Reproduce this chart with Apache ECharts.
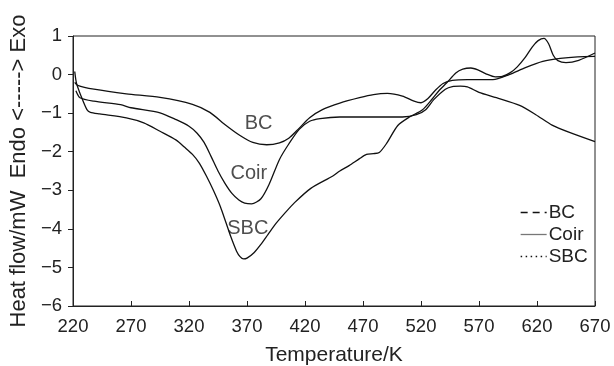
<!DOCTYPE html>
<html>
<head>
<meta charset="utf-8">
<script src="https://cdn.jsdelivr.net/npm/echarts@6/dist/echarts.min.js"></script>
<style>
html,body{margin:0;padding:0;background:#fff;}
#chart{width:614px;height:366px;}
</style>
</head>
<body>
<div id="chart"></div>
<script>
// ---- data (Temperature/K, Heat flow/mW) ----
var seriesNames = ['BC', 'Coir', 'SBC'];
var bcData = [[221.5,-0.2],[224,-0.28],[238,-0.38],[266,-0.5],[295,-0.59],[323,-0.77],[338,-0.98],[352,-1.32],[364,-1.58],[375,-1.76],[387,-1.82],[398,-1.77],[406,-1.65],[414,-1.42],[424,-1.12],[435,-0.91],[450,-0.74],[467,-0.6],[479,-0.52],[491,-0.49],[504,-0.56],[514,-0.69],[520,-0.73],[526,-0.62],[532,-0.42],[539,-0.23],[547,-0.15],[560,-0.13],[582,-0.13],[596,0.0],[610,0.18],[625,0.34],[640,0.42],[655,0.46],[670,0.47]];
var coirData = [[222.5,-0.42],[226,-0.6],[238,-0.69],[261,-0.78],[270,-0.86],[295,-0.99],[309,-1.17],[320,-1.34],[327,-1.52],[333,-1.76],[339,-2.12],[345,-2.5],[351,-2.82],[357,-3.08],[363,-3.25],[368,-3.33],[374,-3.35],[382,-3.22],[389,-2.85],[398,-2.2],[406,-1.8],[415,-1.42],[424,-1.21],[433,-1.14],[450,-1.1],[480,-1.1],[504,-1.1],[516,-1.04],[524,-0.91],[531,-0.65],[541,-0.38],[547,-0.31],[554,-0.3],[560,-0.32],[570,-0.46],[585,-0.6],[605,-0.8],[619,-1.04],[633,-1.31],[648,-1.5],[670,-1.74]];
var sbcData = [[221.5,0.08],[223,-0.22],[227,-0.56],[232,-0.91],[235,-0.98],[243,-1.02],[266,-1.12],[281,-1.25],[295,-1.47],[309,-1.7],[316,-1.88],[323,-2.07],[329,-2.3],[335,-2.63],[341,-3.0],[347,-3.42],[352,-3.85],[356,-4.2],[361,-4.58],[364,-4.72],[367,-4.78],[370,-4.76],[376,-4.62],[382,-4.4],[388,-4.15],[395,-3.86],[403,-3.58],[411,-3.32],[425,-2.95],[444,-2.63],[450,-2.5],[458,-2.36],[467,-2.18],[473,-2.07],[479,-2.05],[484,-2.02],[490,-1.8],[500,-1.32],[510,-1.1],[521,-0.92],[530,-0.62],[536,-0.4],[542,-0.22],[550,0.04],[556,0.14],[563,0.17],[569,0.12],[576,0.02],[584,-0.06],[590,-0.05],[597,0.05],[603,0.2],[610,0.45],[616,0.72],[621,0.88],[626,0.94],[630,0.8],[634,0.5],[638,0.36],[645,0.31],[656,0.37],[670,0.56]];
// curve annotations: [T, value, text]
var annotations = [[380,-1.27,'BC'],[371.6,-2.56,'Coir'],[370.7,-4.0,'SBC']];
// axes
var xMin = 220, xMax = 670, xStep = 50;
var yMin = -6, yMax = 1, yStep = 1;
var xTitle = 'Temperature/K';
var yTitle = 'Heat flow/mW  Endo <-----> Exo';

var FONT = '"Liberation Sans", Arial, Helvetica, sans-serif';
var TXT = '#222';
var LINE = '#111';

var chart = echarts.init(document.getElementById('chart'), null, {renderer: 'canvas'});

function lineSeries(name, data) {
  return {
    name: name, type: 'line', data: data, symbol: 'none', smooth: 0.25,
    lineStyle: {color: LINE, width: 1.3}, itemStyle: {color: LINE},
    emphasis: {disabled: true}, animation: false
  };
}
var hiddenSymbol = {color: 'rgba(0,0,0,0)', borderColor: 'rgba(0,0,0,0)', borderWidth: 0, opacity: 0};

var option = {
  animation: false,
  backgroundColor: '#fff',
  grid: {left: 73, right: 19, top: 36, bottom: 60, show: true, borderColor: '#222', borderWidth: 1,
    containLabel: false, outerBoundsMode: 'none'},
  xAxis: {
    type: 'value', min: xMin, max: xMax, interval: xStep,
    name: xTitle, nameLocation: 'middle', nameGap: 39,
    nameTextStyle: {fontFamily: FONT, fontSize: 21, color: TXT},
    axisLine: {onZero: false, lineStyle: {color: '#222', width: 1}},
    axisTick: {inside: true, length: 5, lineStyle: {color: '#222'}},
    axisLabel: {fontFamily: FONT, fontSize: 18.5, color: TXT, margin: 11},
    splitLine: {show: false}
  },
  yAxis: {
    type: 'value', min: yMin, max: yMax, interval: yStep,
    name: yTitle, nameLocation: 'middle', nameGap: 41, nameRotate: 90,
    nameTextStyle: {fontFamily: FONT, fontSize: 22, color: TXT},
    axisLine: {show: true, onZero: false, lineStyle: {color: '#222', width: 1}},
    axisTick: {show: true, inside: false, length: 5, lineStyle: {color: '#222'}},
    axisLabel: {fontFamily: FONT, fontSize: 18.5, color: TXT, margin: 11,
      formatter: function (v) { return String(v).replace('-', '\u2212'); }},
    splitLine: {show: false}
  },
  legend: {
    orient: 'vertical', left: 515, top: 198, itemWidth: 26, itemHeight: 14, itemGap: 3,
    textStyle: {fontFamily: FONT, fontSize: 19, color: TXT, padding: [0,0,0,-3]},
    selectedMode: false,
    data: [
      {name: seriesNames[0], itemStyle: hiddenSymbol, lineStyle: {type: [7, 5], color: '#111', width: 1.3}},
      {name: seriesNames[1], itemStyle: hiddenSymbol, lineStyle: {type: 'solid', color: '#777', width: 1.3}},
      {name: seriesNames[2], itemStyle: hiddenSymbol, lineStyle: {type: [1.5, 3.5], color: '#111', width: 1.3}}
    ]
  },
  series: [
    lineSeries(seriesNames[0], bcData),
    lineSeries(seriesNames[1], coirData),
    lineSeries(seriesNames[2], sbcData),
    {
      name: 'labels', type: 'scatter', data: annotations, symbolSize: 1,
      itemStyle: {color: 'rgba(0,0,0,0)'}, silent: true,
      label: {show: true, position: 'inside', formatter: function (p) { return p.value[2]; },
        fontFamily: FONT, fontSize: 20, color: TXT}
    }
  ]
};
chart.setOption(option);
</script>
</body>
</html>
